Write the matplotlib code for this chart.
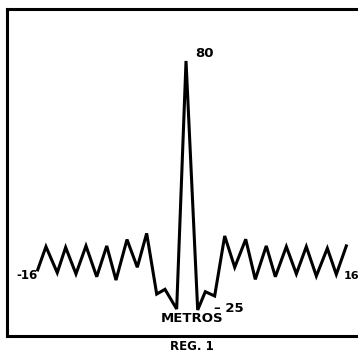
import matplotlib
matplotlib.use("Agg")
import matplotlib.pyplot as plt

# Distance (metres) and response values
metros = [-16.0, -15.14, -13.97, -13.10, -12.03, -10.99, -9.88, -8.84, -7.88, -6.74,
          -5.67, -4.70, -3.66, -2.80, -1.59, -0.62, 0.59, 1.38, 2.35, 3.39,
          4.43, 5.57, 6.56, 7.70, 8.64, 9.78, 10.82, 11.85, 12.89, 14.03,
          14.96, 16.0]
valores = [-8.1, 1.7, -9.3, 1.4, -9.8, 2.0, -11.0, 2.0, -12.4, 4.7,
           -7.0, 7.3, -18.3, -16.3, -24.6, 80.0, -25.0, -17.3, -19.1, 6.2,
           -7.0, 4.8, -12.1, 2.0, -11.0, 1.7, -9.8, 1.7, -10.7, 1.0,
           -10.0, 2.0]

etiqueta_pico = "80"
etiqueta_min = "\u2013 25"
etiqueta_izq = "-16"
etiqueta_der = "16"
eje_x = "METROS"
titulo = "REG. 1"

fig = plt.figure(figsize=(3.58, 3.55), dpi=100)
ax = fig.add_axes([7/358, 19/355, 351/358, 327/355])
ax.plot(metros, valores, color="black", linewidth=2.2, solid_joinstyle="miter")

ax.set_xlim(-19.18, 17.21)
ax.set_ylim(-35.98, 101.9)
ax.set_xticks([])
ax.set_yticks([])
for s in ["left", "top", "bottom"]:
    ax.spines[s].set_linewidth(2.2)
ax.spines["right"].set_visible(False)

fw = dict(fontweight="bold", fontsize=9.5, family="DejaVu Sans", color="black")
ax.text(0.3, 83, etiqueta_pico, ha="left", va="center", **fw)
ax.text(2.3, -24.3, etiqueta_min, ha="left", va="center", **fw)
ax.text(-16.0, -10.3, etiqueta_izq, ha="right", va="center",
        **{**fw, "fontsize": 8.5})
ax.text(15.75, -10.5, etiqueta_der, ha="left", va="center",
        **{**fw, "fontsize": 8})
ax.text(0, -28.6, eje_x, ha="center", va="center", **fw)
fig.text(192/358, 1 - 346/355, titulo, ha="center", va="center",
         **{**fw, "fontsize": 8.5})

fig.savefig("out.png", dpi=100)
